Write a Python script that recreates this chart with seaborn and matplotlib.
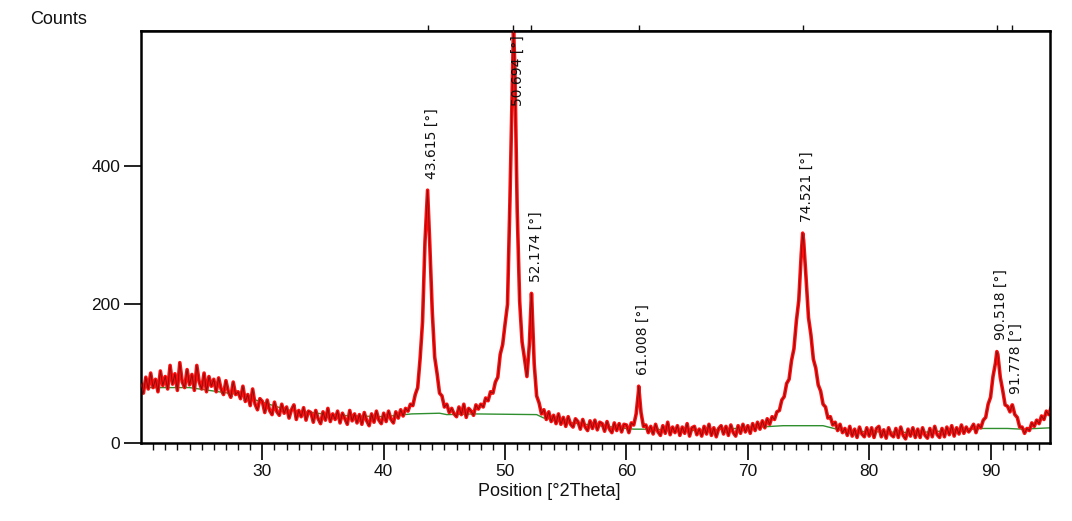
import numpy as np
import pandas as pd
import matplotlib.pyplot as plt
import seaborn as sns

# %%
# XRD scan, 20.0 - 95.0 deg 2theta, step 0.2
scan_start = 20.0
scan_step = 0.2
counts = [
    86, 72, 95, 78, 101, 80, 92, 74, 104, 83,
    96, 78, 112, 85, 100, 76, 116, 88, 80, 106,
    84, 99, 76, 112, 88, 78, 101, 74, 96, 82,
    92, 74, 94, 78, 70, 90, 74, 66, 88, 70,
    74, 64, 82, 60, 70, 54, 78, 56, 48, 64,
    60, 44, 62, 47, 41, 59, 45, 40, 56, 43,
    52, 36, 48, 55, 34, 47, 38, 51, 33, 46,
    44, 30, 47, 35, 28, 45, 33, 50, 31, 42,
    34, 46, 29, 43, 35, 27, 47, 32, 42, 29,
    41, 27, 44, 32, 25, 42, 30, 46, 33, 28,
    43, 31, 46, 34, 29, 45, 36, 48, 39, 50,
    46, 56, 54, 70, 80, 122, 175, 290, 360, 285,
    190, 124, 100, 72, 68, 52, 56, 44, 50, 42,
    38, 52, 41, 56, 37, 50, 46, 40, 55, 49,
    56, 52, 65, 61, 74, 72, 88, 95, 128, 142,
    172, 200, 350, 525, 545, 335, 205, 146, 122, 96,
    142, 208, 114, 68, 58, 42, 48, 34, 45, 31,
    40, 28, 42, 27, 37, 24, 38, 27, 23, 35,
    31, 20, 34, 23, 18, 32, 21, 33, 19, 30,
    28, 17, 31, 20, 15, 29, 18, 28, 16, 27,
    26, 15, 29, 26, 42, 76, 44, 24, 26, 15,
    24, 13, 27, 16, 11, 25, 14, 30, 12, 23,
    15, 25, 11, 23, 14, 28, 10, 22, 24, 12,
    20, 10, 24, 13, 27, 11, 22, 9, 21, 25,
    13, 24, 11, 26, 15, 10, 25, 14, 27, 16,
    25, 14, 28, 18, 30, 20, 32, 22, 35, 27,
    38, 34, 45, 47, 62, 67, 86, 92, 119, 136,
    176, 206, 272, 292, 238, 181, 156, 121, 108, 84,
    75, 56, 52, 36, 38, 26, 30, 18, 27, 15,
    21, 11, 24, 10, 20, 8, 23, 13, 9, 22,
    10, 22, 8, 21, 24, 9, 19, 7, 22, 12,
    9, 21, 8, 23, 11, 6, 20, 10, 22, 8,
    20, 8, 22, 11, 7, 21, 9, 24, 12, 8,
    21, 9, 23, 12, 25, 10, 22, 13, 26, 14,
    23, 16, 21, 27, 15, 26, 22, 33, 37, 56,
    66, 96, 115, 128, 95, 76, 55, 53, 45, 55,
    41, 37, 23, 23, 14, 21, 18, 29, 24, 33,
    28, 39, 34, 46, 41, 52,
]

# labelled peaks
peak_pos = [43.615, 50.694, 52.174, 61.008, 74.521, 90.518, 91.778]
peak_counts = [365, 600, 216, 82, 303, 132, 55]

# fitted background (green)
bg_pos = [20, 24, 28, 32, 36, 40, 42.3, 44.6, 45.2, 47.5, 52.6, 53.2, 56,
          60.6, 61.4, 66, 72.9, 76.2, 78, 84, 89.4, 91.4, 92.6, 95]
bg_counts = [80, 80, 70, 48, 40, 38, 42, 43, 41, 42, 41, 36, 28,
             20, 20, 18, 25, 25, 17, 15, 21, 21, 20, 22]

x_ticks = [30, 40, 50, 60, 70, 80, 90]
y_ticks = [0, 200, 400]

# %%
scan = pd.DataFrame({'two_theta': scan_start + scan_step * np.arange(len(counts)),
                     'counts': counts})
peaks = pd.DataFrame({'two_theta': peak_pos, 'counts': peak_counts})
data = pd.concat([scan, peaks]).sort_values('two_theta').reset_index(drop=True)
background = pd.DataFrame({'two_theta': bg_pos, 'counts': bg_counts})

# %%
sns.set_theme(style='ticks')
plt.rcParams['font.family'] = ['Liberation Sans', 'DejaVu Sans']
label_font = ['Liberation Sans Narrow', 'DejaVu Sans']

fig = plt.figure(figsize=(10.72, 5.21), dpi=100)
ax = fig.add_axes([0.1315, 0.1497, 0.848, 0.791])

sns.lineplot(data=background, x='two_theta', y='counts', color='#2f8f2f', lw=1.0,
             estimator=None, ax=ax, zorder=1)
sns.lineplot(data=data, x='two_theta', y='counts', color='#ff1010', lw=2.6,
             estimator=None, ax=ax, zorder=2)
sns.lineplot(data=data, x='two_theta', y='counts', color='#8f0d0d', lw=0.7,
             estimator=None, ax=ax, zorder=3)

ax.set_xlim(20, 94.9)
ax.set_ylim(0, 595)
ymax = ax.get_ylim()[1]

for pos, cnt in zip(peak_pos, peak_counts):
    txt = f'{pos:.3f} [°]'
    if cnt > ymax - 120:
        ax.annotate(txt, xy=(pos, ymax), xytext=(3, -3), textcoords='offset points',
                    rotation=90, ha='center', va='top', fontsize=10,
                    family=label_font, color='#111111')
    else:
        ax.annotate(txt, xy=(pos, cnt), xytext=(3, 8), textcoords='offset points',
                    rotation=90, ha='center', va='bottom', fontsize=10,
                    family=label_font, color='#111111')

ax.set_xticks(x_ticks)
ax.set_xticks(np.arange(21, 95, 1), minor=True)
ax.set_yticks(y_ticks)
ax.tick_params(axis='both', which='major', length=12, width=1.3, labelsize=12.5,
               colors='#111111', pad=3)
ax.tick_params(axis='x', which='minor', length=5, width=1.0, colors='#111111')
for side in ['left', 'right', 'top', 'bottom']:
    ax.spines[side].set_linewidth(1.8)
    ax.spines[side].set_color('black')

# peak markers on top axis
top = ax.secondary_xaxis('top')
top.set_xticks(peak_pos)
top.set_xticklabels([])
top.tick_params(length=4, width=1.0, direction='out', colors='#111111')

ax.set_xlabel('Position [°2Theta]', fontsize=13, color='#111111')
ax.xaxis.set_label_coords(0.449, -0.097)
ax.set_ylabel('')
fig.text(0.028, 1 - 20 / 521, 'Counts', fontsize=13, color='#111111',
         ha='left', va='center')

fig.savefig('out.png', dpi=100)
